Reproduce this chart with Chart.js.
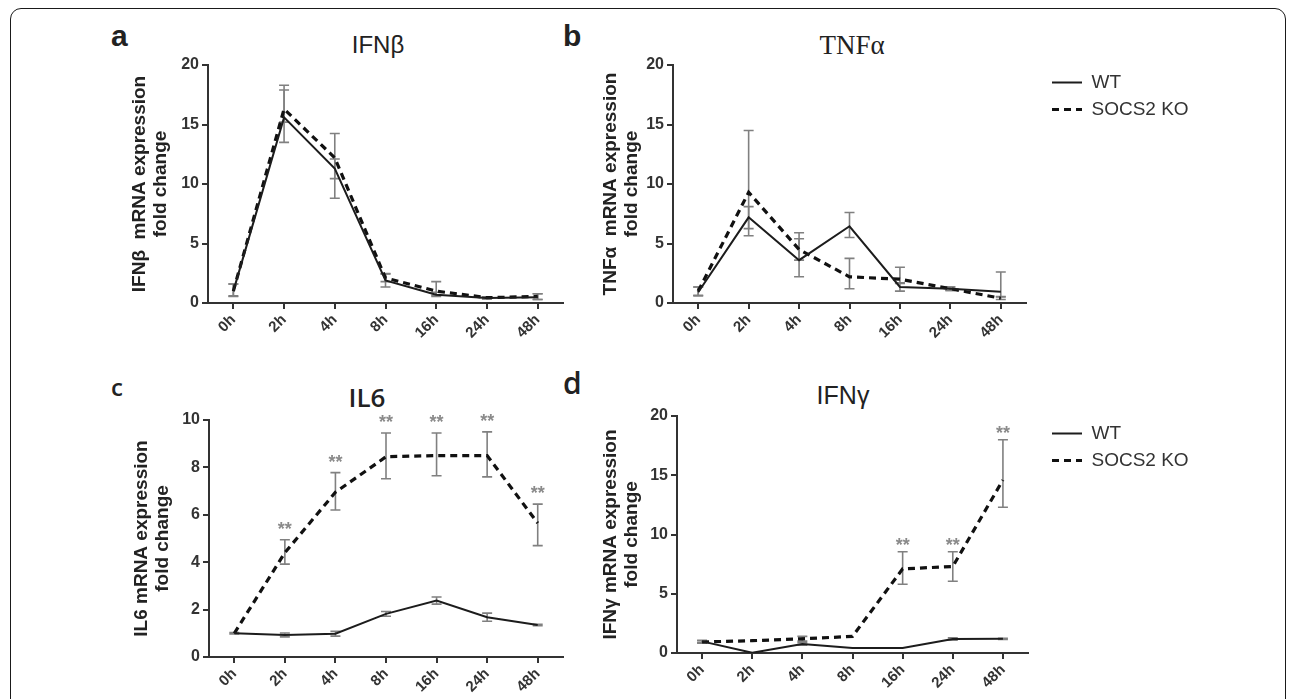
<!DOCTYPE html>
<html>
<head>
<meta charset="utf-8">
<script src="https://cdn.jsdelivr.net/npm/chart.js@4.4.1/dist/chart.umd.min.js"></script>
<style>
  html, body { margin: 0; padding: 0; background: #ffffff; }
  body { width: 1290px; height: 699px; overflow: hidden; position: relative; }
  .frame { position: absolute; left: 10px; top: 8px; width: 1276px; height: 740px;
           border: 1.5px solid #1a1a1a; border-radius: 11px; box-sizing: border-box; }
  canvas { position: absolute; }
  .txt { position: absolute; line-height: 1; white-space: nowrap; color: #222; }
  .ctr { transform: translate(-50%, -50%); }
</style>
</head>
<body>
<div class="frame"></div>

<div class="txt" style="left:111px;top:19px;font:bold 30px 'Liberation Sans';">a</div>
<div class="txt" style="left:563px;top:19px;font:bold 30px 'Liberation Sans';">b</div>
<div class="txt" style="left:111px;top:370px;font:600 24px 'Open Sans';">c</div>
<div class="txt" style="left:563px;top:362px;font:600 30px 'Open Sans';">d</div>

<div class="txt ctr" style="left:378px;top:45px;font:24px 'Liberation Sans';">IFNβ</div>
<div class="txt ctr" style="left:852px;top:45px;font:27px 'Liberation Serif';">TNFα</div>
<div class="txt ctr" style="left:367px;top:397px;font:600 26px 'Open Sans';">IL6</div>
<div class="txt ctr" style="left:843px;top:395px;font:500 25px 'Liberation Sans';">IFNγ</div>

<canvas id="cA" width="480" height="320" style="left:90px;top:50px"></canvas>
<canvas id="cB" width="700" height="320" style="left:560px;top:50px"></canvas>
<canvas id="cC" width="480" height="320" style="left:90px;top:400px"></canvas>
<canvas id="cD" width="700" height="324" style="left:560px;top:396px"></canvas>

<script>
// ---------------- data ----------------
const timeLabels = ['0h', '2h', '4h', '8h', '16h', '24h', '48h'];
const seriesNames = ['WT', 'SOCS2 KO'];
const ticks20 = [0, 5, 10, 15, 20];
const ticks10 = [0, 2, 4, 6, 8, 10];

// a: IFNβ
const ifnbWT       = [1.0, 15.6, 11.3, 1.9, 0.7, 0.42, 0.48];
const ifnbWTUp     = [0.6, 2.3, 0.8, 0.55, 0.2, 0.08, 0.3];
const ifnbWTDown   = [0.45, 2.1, 2.5, 0.55, 0.15, 0.08, 0.18];
const ifnbKO       = [1.0, 16.3, 12.2, 2.1, 1.0, 0.45, 0.55];
const ifnbKOUp     = [0.6, 2.0, 2.05, 0.37, 0.8, 0.08, 0.23];
const ifnbKODown   = [0.4, 1.1, 1.75, 0.3, 0.35, 0.08, 0.25];

// b: TNFα
const tnfaWT       = [0.9, 7.2, 3.6, 6.45, 1.35, 1.2, 0.95];
const tnfaWTUp     = [0.45, 0.9, 2.3, 1.15, 0.3, 0.15, 1.65];
const tnfaWTDown   = [0.3, 1.55, 1.4, 0.95, 0.35, 0.15, 0.45];
const tnfaKO       = [1.0, 9.3, 4.5, 2.2, 2.0, 1.2, 0.4];
const tnfaKOUp     = [0.35, 5.2, 0.9, 1.55, 1.0, 0.15, 0.15];
const tnfaKODown   = [0.35, 3.05, 0.9, 1.0, 0.3, 0.15, 0.1];

// c: IL6
const il6WT        = [1.0, 0.93, 0.98, 1.82, 2.38, 1.68, 1.35];
const il6WTUp      = [0.03, 0.08, 0.1, 0.1, 0.15, 0.17, 0.03];
const il6WTDown    = [0.03, 0.08, 0.1, 0.1, 0.15, 0.17, 0.03];
const il6KO        = [1.0, 4.4, 6.95, 8.45, 8.5, 8.5, 5.65];
const il6KOUp      = [0, 0.55, 0.83, 1.0, 0.95, 1.0, 0.8];
const il6KODown    = [0, 0.48, 0.75, 0.93, 0.85, 0.9, 0.95];
const il6KOStars   = [false, true, true, true, true, true, true];

// d: IFNγ
const ifngWT       = [0.98, 0.02, 0.76, 0.42, 0.42, 1.18, 1.2];
const ifngWTUp     = [0.1, 0, 0.1, 0, 0, 0.1, 0.05];
const ifngWTDown   = [0.1, 0, 0.1, 0, 0, 0.1, 0.05];
const ifngKO       = [0.93, 1.04, 1.2, 1.4, 7.1, 7.3, 14.6];
const ifngKOUp     = [0.1, 0, 0.2, 0, 1.45, 1.25, 3.4];
const ifngKODown   = [0.1, 0, 0.2, 0, 1.3, 1.25, 2.3];
const ifngKOStars  = [false, false, false, false, true, true, true];

// ---------------- helpers ----------------
const FONT = "'Liberation Sans', Arial, sans-serif";

const errorBarPlugin = {
  id: 'errorBars',
  beforeDatasetsDraw(chart) {
    const {ctx} = chart;
    const ys = chart.scales.y;
    chart.data.datasets.forEach((ds, i) => {
      if (!ds.errUp) return;
      const meta = chart.getDatasetMeta(i);
      ctx.save();
      ctx.strokeStyle = '#808080';
      ctx.lineWidth = 1.6;
      meta.data.forEach((pt, j) => {
        const v = ds.data[j], up = ds.errUp[j], dn = ds.errDown[j];
        if (!up && !dn) return;
        const x = pt.x;
        const yt = ys.getPixelForValue(v + up);
        const yb = ys.getPixelForValue(v - dn);
        ctx.beginPath();
        ctx.moveTo(x, yt); ctx.lineTo(x, yb);
        if (up) { ctx.moveTo(x - 5, yt); ctx.lineTo(x + 5, yt); }
        if (dn) { ctx.moveTo(x - 5, yb); ctx.lineTo(x + 5, yb); }
        ctx.stroke();
      });
      ctx.restore();
    });
  },
  afterDatasetsDraw(chart) {
    const {ctx} = chart;
    const ys = chart.scales.y;
    const gap = chart.options.plugins.errorBars.starGap || 12;
    chart.data.datasets.forEach((ds, i) => {
      if (!ds.stars) return;
      const meta = chart.getDatasetMeta(i);
      ctx.save();
      ctx.fillStyle = '#8a8a8a';
      ctx.font = 'bold 18px ' + FONT;
      ctx.textAlign = 'center';
      ctx.textBaseline = 'alphabetic';
      meta.data.forEach((pt, j) => {
        if (!ds.stars[j]) return;
        const yt = ys.getPixelForValue(ds.data[j] + (ds.errUp[j] || 0));
        ctx.fillText('**', pt.x, yt - gap + 10);
      });
      ctx.restore();
    });
  }
};

function measure(text, font) {
  const c = document.createElement('canvas').getContext('2d');
  c.font = font;
  return c.measureText(text).width;
}

function makePanel(p) {
  const canvas = document.getElementById(p.id);
  const cw = canvas.width, ch = canvas.height;
  const cx = p.cx, cy = p.cy;
  const padTop = p.area.top - cy;
  const yW = p.area.left - cx;
  const xH = (cy + ch) - p.area.bottom;
  const legendFontSize = 19;
  const legendPad = 8;
  const boxW = 30;
  let padRight = (cx + cw) - p.area.right;
  let padAxisW = 0;
  if (p.legend) {
    const tw = measure('SOCS2 KO', legendFontSize + 'px ' + FONT);
    const legendW = legendPad + boxW + legendFontSize / 2 + tw + 10;
    padAxisW = p.legendLineX - legendPad - p.area.right;
    padRight = (cx + cw) - (p.area.right + padAxisW + legendW);
  }
  const axisGrid = {display: true, drawOnChartArea: false, drawTicks: true, tickLength: 6, color: '#333', lineWidth: 2};
  const scales = {
    x: {
      type: 'category', offset: true,
      grid: axisGrid,
      border: {display: true, color: '#333', width: 2},
      ticks: {color: '#333', font: {family: FONT, size: 15, weight: 'bold'}, minRotation: 45, maxRotation: 45, autoSkip: false, padding: 2},
      afterFit: s => { s.height = xH; }
    },
    y: {
      type: 'linear', position: 'left',
      min: p.ticks[0], max: p.ticks[p.ticks.length - 1],
      grid: axisGrid,
      border: {display: true, color: '#333', width: 2},
      ticks: {color: '#333', font: {family: FONT, size: 16, weight: 'bold'}, padding: 3},
      afterBuildTicks: s => { s.ticks = p.ticks.map(v => ({value: v})); },
      title: {display: true, text: p.yTitle, color: '#222',
              font: {family: FONT, size: 19, weight: 'bold', lineHeight: 1.13},
              padding: {top: p.titlePad, bottom: 0}},
      afterFit: s => { s.width = yW; }
    }
  };
  if (p.legend) {
    scales.pad = {
      type: 'linear', position: 'right', display: true,
      grid: {display: false}, border: {display: false}, ticks: {display: false},
      afterFit: s => { s.width = padAxisW; }
    };
  }
  return new Chart(canvas, {
    type: 'line',
    data: {
      labels: timeLabels,
      datasets: [
        {label: seriesNames[0], data: p.wt, errUp: p.wtUp, errDown: p.wtDown,
         borderColor: '#1c1c1c', backgroundColor: '#1c1c1c', borderWidth: 2,
         pointRadius: 0, tension: 0, xAxisID: 'x', yAxisID: 'y'},
        {label: seriesNames[1], data: p.ko, errUp: p.koUp, errDown: p.koDown, stars: p.koStars,
         borderColor: '#111', backgroundColor: '#111', borderWidth: 3.2, borderDash: [7, 5],
         pointRadius: 0, tension: 0, xAxisID: 'x', yAxisID: 'y'}
      ]
    },
    options: {
      responsive: false, animation: false, devicePixelRatio: 1,
      layout: {padding: {top: padTop, left: 0, right: padRight, bottom: 0}},
      plugins: {
        tooltip: {enabled: false},
        errorBars: {starGap: p.starGap},
        legend: {
          display: !!p.legend, position: 'right', align: 'start', maxWidth: 400,
          labels: {
            usePointStyle: true, pointStyle: 'line', pointStyleWidth: boxW,
            padding: legendPad, color: '#333',
            font: {family: FONT, size: legendFontSize},
            generateLabels: chart => chart.data.datasets.map((ds, i) => ({
              text: ds.label, fillStyle: ds.borderColor, strokeStyle: ds.borderColor,
              lineWidth: ds.borderWidth, lineDash: ds.borderDash || [], pointStyle: 'line',
              fontColor: '#333', hidden: false, datasetIndex: i
            }))
          }
        }
      },
      scales
    },
    plugins: [errorBarPlugin]
  });
}

makePanel({id: 'cA', cx: 90, cy: 50, area: {left: 208, right: 563, top: 65, bottom: 303},
  ticks: ticks20, yTitle: ['IFNβ  mRNA expression', 'fold change'], titlePad: 39,
  wt: ifnbWT, wtUp: ifnbWTUp, wtDown: ifnbWTDown, ko: ifnbKO, koUp: ifnbKOUp, koDown: ifnbKODown});

makePanel({id: 'cB', cx: 560, cy: 50, area: {left: 673, right: 1026, top: 65, bottom: 303},
  ticks: ticks20, yTitle: ['TNFα  mRNA expression', 'fold change'], titlePad: 40,
  legend: true, legendLineX: 1052,
  wt: tnfaWT, wtUp: tnfaWTUp, wtDown: tnfaWTDown, ko: tnfaKO, koUp: tnfaKOUp, koDown: tnfaKODown});

makePanel({id: 'cC', cx: 90, cy: 400, area: {left: 209, right: 563, top: 420, bottom: 657},
  ticks: ticks10, yTitle: ['IL6 mRNA expression', 'fold change'], titlePad: 41, starGap: 15,
  wt: il6WT, wtUp: il6WTUp, wtDown: il6WTDown, ko: il6KO, koUp: il6KOUp, koDown: il6KODown, koStars: il6KOStars});

makePanel({id: 'cD', cx: 560, cy: 396, area: {left: 677, right: 1028, top: 416, bottom: 653},
  ticks: ticks20, yTitle: ['IFNγ mRNA expression', 'fold change'], titlePad: 40, starGap: 10.5,
  legend: true, legendLineX: 1052,
  wt: ifngWT, wtUp: ifngWTUp, wtDown: ifngWTDown, ko: ifngKO, koUp: ifngKOUp, koDown: ifngKODown, koStars: ifngKOStars});
</script>
</body>
</html>
